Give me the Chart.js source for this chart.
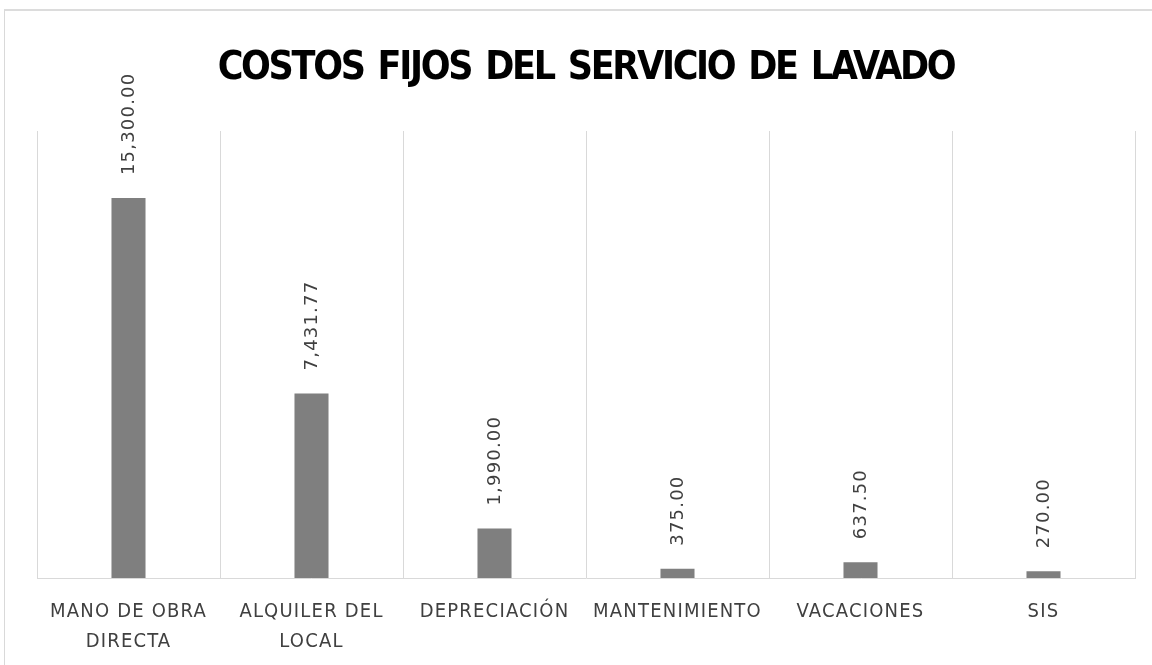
<!DOCTYPE html>
<html>
<head>
<meta charset="utf-8">
<script src="https://cdn.jsdelivr.net/npm/chart.js@4/dist/chart.umd.min.js"></script>
<style>
  html, body { margin: 0; padding: 0; background: #ffffff; }
  #wrap { position: absolute; left: 0; top: 0; width: 1152px; height: 665px; overflow: hidden; }
  #frame { position: absolute; left: 4px; top: 9px; width: 1160px; height: 700px; border: 1px solid #d9d9d9; border-top: 2px solid #dcdcdc; box-sizing: border-box; }
  canvas { position: absolute; left: 0; top: 0; }
</style>
</head>
<body>
<div id="wrap">
  <div id="frame"></div>
  <canvas id="c" width="1152" height="665"></canvas>
</div>
<script>
const chartTitle = "COSTOS FIJOS DEL SERVICIO DE LAVADO";
const categories = [
  ["MANO DE OBRA", "DIRECTA"],
  ["ALQUILER DEL", "LOCAL"],
  ["DEPRECIACIÓN"],
  ["MANTENIMIENTO"],
  ["VACACIONES"],
  ["SIS"]
];
const costValues = [15300, 7431.77, 1990, 375, 637.5, 270];
const axisMax = 18000;

const fmt = new Intl.NumberFormat('en-US', { minimumFractionDigits: 2, maximumFractionDigits: 2 });

const TICK_SPACING = '1.2px';
const TITLE_SPACING = '-2.3px';
const TITLE_WORD_SPACING = '4px';
const LABEL_SPACING = '1.2px';

const spacingPlugin = {
  id: 'spacing',
  beforeLayout(chart) { chart.ctx.letterSpacing = TICK_SPACING; chart.ctx.wordSpacing = '0px'; },
  afterLayout(chart) { chart.ctx.letterSpacing = '0px'; },
  beforeDraw(chart) { chart.ctx.letterSpacing = TITLE_SPACING; chart.ctx.wordSpacing = TITLE_WORD_SPACING; },
  afterDatasetsDraw(chart) {
    const ctx = chart.ctx;
    ctx.wordSpacing = '0px';
    const meta = chart.getDatasetMeta(0);
    ctx.save();
    ctx.letterSpacing = LABEL_SPACING;
    ctx.font = '18px "DejaVu Sans", sans-serif';
    ctx.fillStyle = '#404040';
    ctx.textAlign = 'left';
    ctx.textBaseline = 'middle';
    meta.data.forEach((bar, i) => {
      ctx.save();
      ctx.translate(bar.x + 1, bar.y - 23);
      ctx.rotate(-Math.PI / 2);
      ctx.fillText(fmt.format(costValues[i]), 0, 0);
      ctx.restore();
    });
    ctx.restore();
    ctx.letterSpacing = TICK_SPACING;
  },
  afterDraw(chart) { chart.ctx.letterSpacing = '0px'; chart.ctx.wordSpacing = '0px'; }
};

new Chart(document.getElementById('c'), {
  type: 'bar',
  data: {
    labels: categories,
    datasets: [{
      data: costValues,
      backgroundColor: '#7f7f7f',
      borderWidth: 0,
      barPercentage: 0.186,
      categoryPercentage: 1
    }]
  },
  options: {
    responsive: false,
    animation: false,
    events: [],
    layout: { padding: { left: 37, right: 17, top: 10, bottom: 0 } },
    plugins: {
      legend: { display: false },
      tooltip: { enabled: false },
      title: {
        display: true,
        text: chartTitle,
        color: '#000000',
        font: { family: '"DejaVu Sans Condensed", "DejaVu Sans", sans-serif', size: 39, weight: 'bold', lineHeight: 1.2 },
        padding: { top: 35.6, bottom: 38.6 }
      }
    },
    scales: {
      x: {
        offset: true,
        grid: { display: true, offset: true, color: '#d9d9d9', lineWidth: 1, drawTicks: false },
        border: { display: true, color: '#d9d9d9', width: 1 },
        ticks: {
          z: 1,
          color: '#404040',
          padding: 19,
          maxRotation: 0,
          autoSkip: false,
          font: { family: '"DejaVu Sans Condensed", "DejaVu Sans", sans-serif', size: 20, lineHeight: 1.5 }
        },
        afterFit(s) { s.height = 87; }
      },
      y: {
        display: false,
        min: 0,
        max: axisMax
      }
    }
  },
  plugins: [spacingPlugin]
});
</script>
</body>
</html>
